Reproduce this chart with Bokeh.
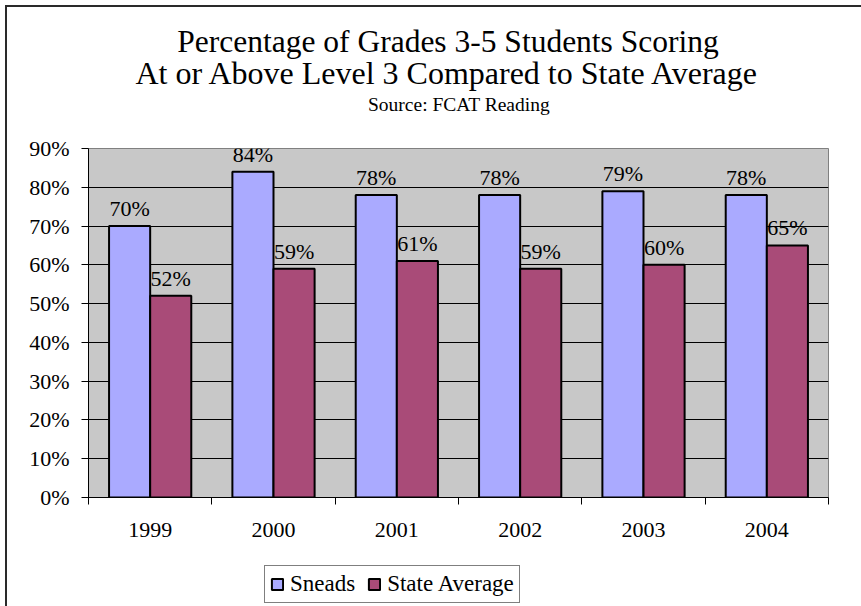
from bokeh.plotting import figure
from bokeh.layouts import column
from bokeh.models import (Range1d, FixedTicker, SingleIntervalTicker, PrintfTickFormatter,
                          LabelSet, Label, Legend, LegendItem, ColumnDataSource)
from bokeh.transform import dodge
from bokeh.embed import file_html
from bokeh.resources import INLINE

years = ["1999", "2000", "2001", "2002", "2003", "2004"]
sneads = [70, 84, 78, 78, 79, 78]
state = [52, 59, 61, 59, 60, 65]
series_names = ["Sneads", "State Average"]
title_lines = ["Percentage of Grades 3-5 Students Scoring",
               "At or Above Level 3 Compared to State Average"]
subtitle = "Source: FCAT Reading"

FONT = "Liberation Serif"
BLUE = "#AAAAFF"
MAGENTA = "#A94B78"
W = 861
BL, BR = 88, 33   # frame borders shared by all stacked figures

n = len(years)
centers = [i + 0.5 for i in range(n)]
boundaries = list(range(n + 1))

src = ColumnDataSource(dict(
    x=centers, sneads=sneads, state=state,
    sneads_lbl=[f"{v}%" for v in sneads],
    state_lbl=[f"{v}%" for v in state],
))

def blank_fig(h, **kw):
    f = figure(width=W, height=h, output_backend="svg", toolbar_location=None, title=None,
               x_axis_type=None, y_axis_type=None, min_border_left=BL, min_border_right=BR,
               min_border_top=0, min_border_bottom=0,
               background_fill_color="white", border_fill_color="white",
               outline_line_color=None, **kw)
    f.grid.visible = False
    return f

# ---- title block ----
pt = blank_fig(130, x_range=Range1d(0, 1), y_range=Range1d(0, 1))
for txt, xx, yy, size in ((title_lines[0], 359.5, 89, "31.5px"),
                          (title_lines[1], 359.5, 58, "32px"),
                          (subtitle, 370.5, 26, "19.5px")):
    pt.add_layout(Label(x=xx, y=yy, x_units="screen", y_units="screen", text=txt,
                        text_align="center", text_baseline="alphabetic",
                        text_font=FONT, text_font_size=size, text_color="black"))

# ---- main chart ----
p = figure(width=W, height=430, x_range=Range1d(0, n), y_range=Range1d(0, 90),
           output_backend="svg", toolbar_location=None, title=None,
           min_border_left=BL, min_border_right=BR, min_border_top=18, min_border_bottom=63,
           background_fill_color="#C8C8C8", border_fill_color="white",
           outline_line_color="#808080", outline_line_width=1)

r1 = p.vbar(x=dodge("x", -1/6, range=p.x_range), top="sneads", width=1/3, source=src,
            fill_color=BLUE, line_color="black", line_width=2)
r2 = p.vbar(x=dodge("x", 1/6, range=p.x_range), top="state", width=1/3, source=src,
            fill_color=MAGENTA, line_color="black", line_width=2)

for col, lbl, off in (("sneads", "sneads_lbl", -1/6), ("state", "state_lbl", 1/6)):
    p.add_layout(LabelSet(x=dodge("x", off, range=p.x_range), y=col, text=lbl, source=src,
                          text_align="center", text_baseline="alphabetic", y_offset=10,
                          text_font=FONT, text_font_size="22px", text_color="black"))

p.yaxis.ticker = SingleIntervalTicker(interval=10, num_minor_ticks=0)
p.yaxis.formatter = PrintfTickFormatter(format="%d%%")
p.yaxis.major_tick_out = 7
p.yaxis.major_tick_in = 0
p.yaxis.minor_tick_out = 0
p.yaxis.minor_tick_in = 0
p.yaxis.major_label_standoff = 12
p.yaxis.axis_line_color = "black"
p.yaxis.major_tick_line_color = "black"
p.yaxis.major_label_text_font = FONT
p.yaxis.major_label_text_font_size = "22px"
p.yaxis.major_label_text_color = "black"

p.xaxis.ticker = FixedTicker(ticks=centers, minor_ticks=boundaries)
p.xaxis.major_label_overrides = {c: y for c, y in zip(centers, years)}
p.xaxis.major_tick_out = 0
p.xaxis.major_tick_in = 0
p.xaxis.minor_tick_out = 7
p.xaxis.minor_tick_in = 0
p.xaxis.minor_tick_line_color = "black"
p.xaxis.major_label_standoff = 18
p.xaxis.axis_line_color = "black"
p.xaxis.major_label_text_font = FONT
p.xaxis.major_label_text_font_size = "22px"
p.xaxis.major_label_text_color = "black"

p.xgrid.visible = False
p.ygrid.ticker = FixedTicker(ticks=list(range(10, 90, 10)))
p.ygrid.grid_line_color = "black"
p.ygrid.grid_line_width = 1

# ---- legend block (hidden copies of the bar renderers supply the swatches) ----
pl = blank_fig(46, x_range=Range1d(0, n), y_range=Range1d(0, 90))
lr1 = pl.vbar(x=dodge("x", -1/6, range=pl.x_range), top="sneads", width=1/3, source=src,
              fill_color=BLUE, line_color="black", line_width=2, visible=False)
lr2 = pl.vbar(x=dodge("x", 1/6, range=pl.x_range), top="state", width=1/3, source=src,
              fill_color=MAGENTA, line_color="black", line_width=2, visible=False)
legend = Legend(items=[LegendItem(label=series_names[0], renderers=[lr1]),
                       LegendItem(label=series_names[1], renderers=[lr2])],
                location=(176, 3), orientation="horizontal",
                border_line_color="black", border_line_width=1,
                background_fill_color="white", background_fill_alpha=1,
                inactive_fill_alpha=0,
                label_text_font=FONT, label_text_font_size="23px", label_text_color="black",
                glyph_width=14, glyph_height=14, label_standoff=6, spacing=12,
                padding=5, margin=0)
pl.add_layout(legend, "center")

layout = column(pt, p, pl, spacing=0)
# outer chart frame: only its top and left edges fall inside the picture
layout.stylesheets = [":host { position: relative; overflow: hidden; }",
                      ":host::before { content: ''; position: absolute; z-index: 10; "
                      "left: 5px; top: 5px; width: 2000px; height: 2px; "
                      "background: #2a2a2a; pointer-events: none; }",
                      ":host::after { content: ''; position: absolute; z-index: 10; "
                      "left: 5px; top: 5px; width: 2px; height: 2000px; "
                      "background: #2a2a2a; pointer-events: none; }"]

open("out.html", "w").write(file_html(layout, INLINE))
